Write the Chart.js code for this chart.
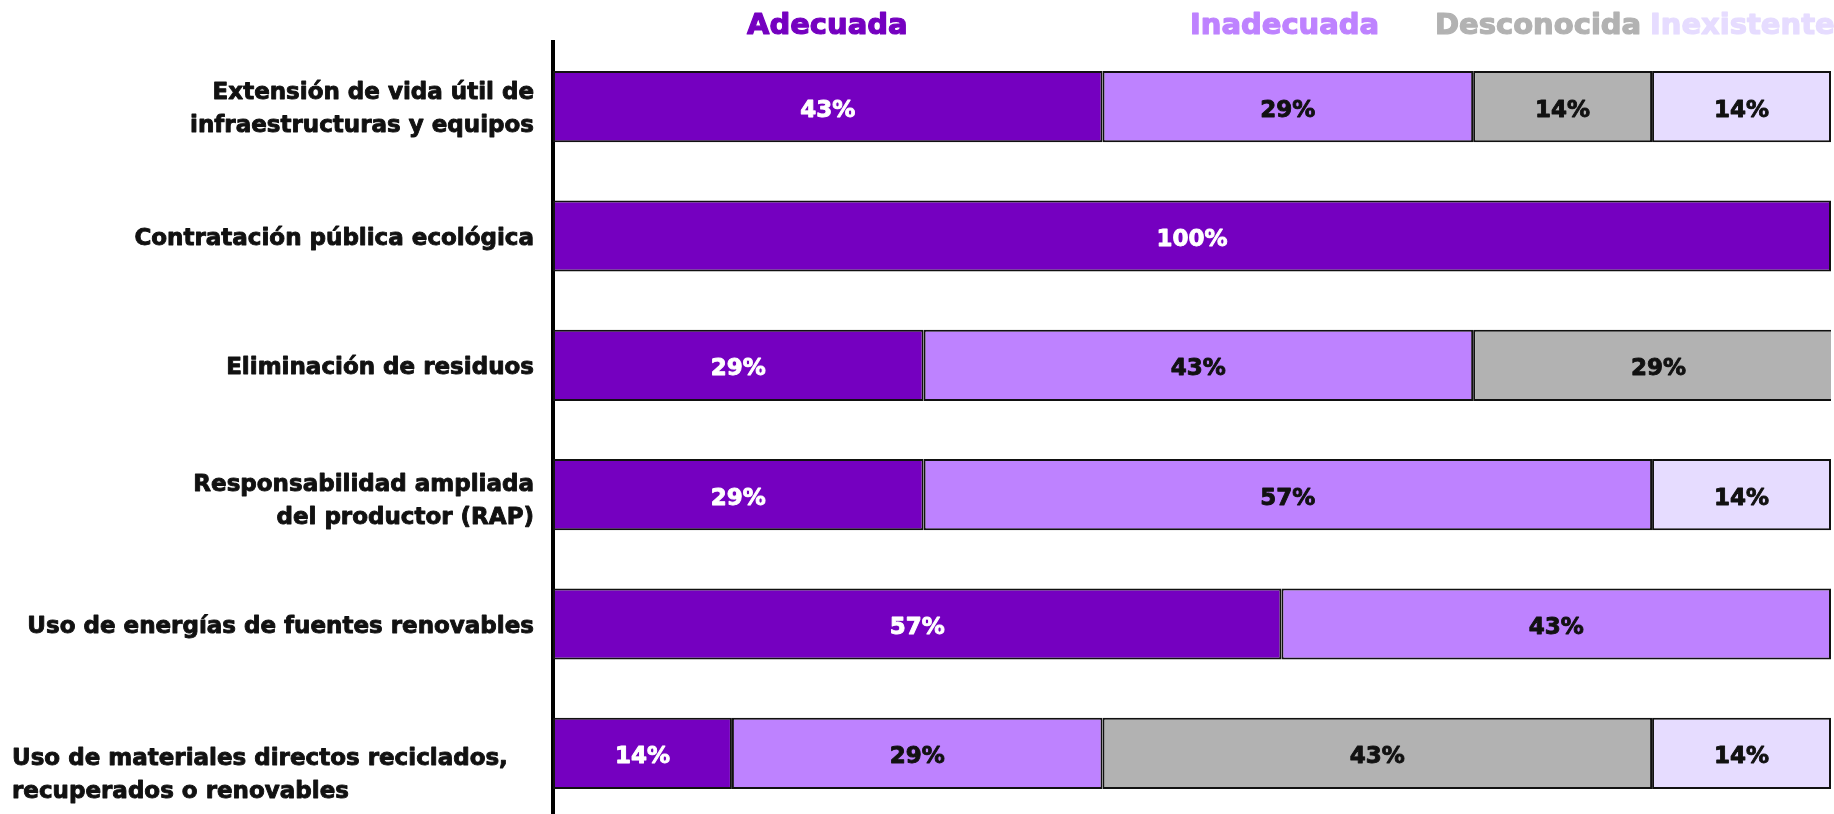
<!DOCTYPE html>
<html lang="es">
<head>
<meta charset="utf-8">
<title>Políticas de economía circular</title>
<script src="https://cdn.jsdelivr.net/npm/chart.js@4/dist/chart.umd.min.js"></script>
<style>
  html, body { margin: 0; padding: 0; background: #fff; overflow: hidden; }
  #wrap { position: relative; width: 1834px; height: 818px; }
</style>
</head>
<body>
<div id="wrap"><canvas id="policyChart"></canvas></div>
<script>
const categories = [
  ["Extensión de vida útil de", "infraestructuras y equipos"],
  ["Contratación pública ecológica"],
  ["Eliminación de residuos"],
  ["Responsabilidad ampliada", "del productor (RAP)"],
  ["Uso de energías de fuentes renovables"],
  ["Uso de materiales directos reciclados,", "recuperados o renovables"],
];
const seriesNames = ["Adecuada", "Inadecuada", "Desconocida", "Inexistente"];
const adecuada = [43, 100, 29, 29, 57, 14];
const inadecuada = [29, null, 43, 57, 43, 29];
const desconocida = [14, null, 29, null, null, 43];
const inexistente = [14, null, null, 14, null, 14];

const colors = ["#7500c0", "#be82ff", "#b2b2b2", "#e6dcff"];
const labelColors = ["#ffffff", "#111111", "#111111", "#111111"];

const BOLD = "'DejaVu Sans', 'Inter', sans-serif";

// bold text with a thin outline of the same colour, for a heavier weight
function heavyText(ctx, text, x, y, weight) {
  ctx.strokeStyle = ctx.fillStyle;
  ctx.lineWidth = weight;
  ctx.lineJoin = "round";
  ctx.strokeText(text, x, y);
  ctx.fillText(text, x, y);
}

// category names on the left, drawn per row so one can be left aligned
const rowLabels = {
  id: "rowLabels",
  afterDraw(chart, args, opts) {
    const { ctx } = chart;
    const y = chart.scales.y;
    ctx.save();
    ctx.font = "bold " + opts.size + "px " + BOLD;
    ctx.fillStyle = "#111";
    ctx.textBaseline = "middle";
    categories.forEach((lines, i) => {
      const left = opts.leftAligned.includes(i);
      const cy = y.getPixelForValue(i) + opts.nudge + (opts.shift[i] || 0);
      ctx.textAlign = left ? "left" : "right";
      const x = left ? opts.leftX : opts.rightX;
      lines.forEach((line, k) => {
        heavyText(ctx, line, x, cy + (k - (lines.length - 1) / 2) * opts.lineHeight, 0.9);
      });
    });
    ctx.restore();
  },
};

// percentage inside each segment
const segmentValues = {
  id: "segmentValues",
  afterDatasetsDraw(chart, args, opts) {
    const { ctx } = chart;
    ctx.save();
    ctx.font = "bold " + opts.size + "px " + BOLD;
    ctx.textAlign = "center";
    ctx.textBaseline = "middle";
    chart.data.datasets.forEach((ds, di) => {
      chart.getDatasetMeta(di).data.forEach((bar, i) => {
        const v = ds.data[i];
        if (v == null) return;
        const c = bar.getCenterPoint();
        ctx.fillStyle = labelColors[di];
        heavyText(ctx, v + "%", c.x, c.y + opts.nudge, 0.9);
      });
    });
    ctx.restore();
  },
};

// coloured series names across the top
const topLegend = {
  id: "topLegend",
  afterDraw(chart, args, opts) {
    const { ctx } = chart;
    ctx.save();
    ctx.font = "bold " + opts.size + "px " + BOLD;
    ctx.textAlign = "left";
    ctx.textBaseline = "middle";
    seriesNames.forEach((name, i) => {
      ctx.fillStyle = colors[i];
      heavyText(ctx, name, opts.xs[i], opts.y, 1.2);
    });
    ctx.restore();
  },
};

const seriesData = [adecuada, inadecuada, desconocida, inexistente];

new Chart(document.getElementById("policyChart"), {
  type: "bar",
  data: {
    labels: categories,
    datasets: seriesNames.map((name, i) => ({
      label: name,
      data: seriesData[i],
      backgroundColor: colors[i],
      borderColor: "#111",
      borderWidth: 2,
      borderSkipped: false,
      barPercentage: 0.55,
      categoryPercentage: 1,
    })),
  },
  options: {
    indexAxis: "y",
    responsive: true,
    maintainAspectRatio: false,
    animation: false,
    layout: { padding: { left: 553, top: 42, right: 3, bottom: 0 } },
    scales: {
      x: {
        stacked: true,
        min: 0,
        max: 100,
        display: false,
      },
      y: {
        stacked: true,
        ticks: { display: false },
        grid: { display: false },
        border: { display: true, color: "#000", width: 4 },
        afterFit(scale) {
          scale.width = 0;
        },
      },
    },
    plugins: {
      legend: { display: false },
      tooltip: { enabled: false },
      rowLabels: {
        size: 23,
        lineHeight: 33,
        rightX: 534,
        leftX: 12,
        leftAligned: [5],
        nudge: 3,
        shift: { 3: 4, 5: 19 },
      },
      segmentValues: { size: 23, nudge: 4 },
      topLegend: {
        size: 29,
        y: 26,
        xs: [747, 1190, 1435, 1650],
      },
    },
  },
  plugins: [rowLabels, segmentValues, topLegend],
});
</script>
</body>
</html>
